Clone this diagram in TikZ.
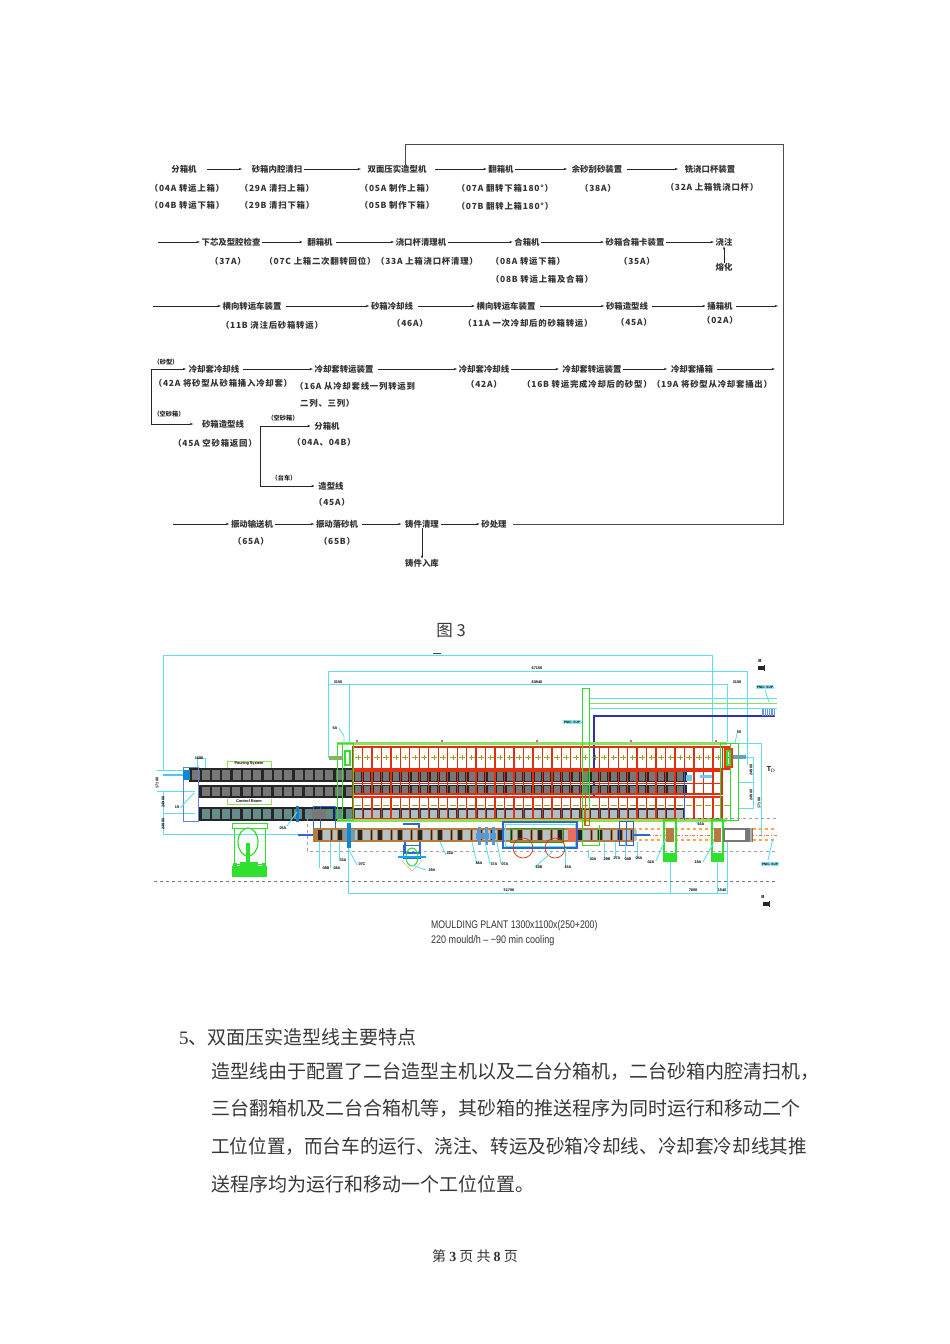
\documentclass[tikz,border=0pt]{standalone}
\usepackage{fontspec}
\usepackage{graphicx}
\usetikzlibrary{arrows.meta}
\setmainfont{Liberation Serif}
\newfontfamily\cjk{Noto Sans CJK SC}
\newfontfamily\cjkx[LetterSpace=9]{Noto Sans CJK SC}
\newfontfamily\plansans{Liberation Sans}
\definecolor{dimc}{HTML}{5FE0EE}
\definecolor{grn}{HTML}{2FE02F}
\definecolor{lgrn}{HTML}{8FE05A}
\definecolor{rd}{HTML}{E0300F}
\definecolor{blu}{HTML}{2F66D0}
\definecolor{dblu}{HTML}{3030B0}
\definecolor{brn}{HTML}{B47A40}
\definecolor{gry}{HTML}{777777}
\tikzset{
  fl/.style={font=\cjk\bfseries\fontsize{8.4}{10}\selectfont,inner xsep=1.5pt,inner ysep=0pt,text=black!80},
  flx/.style={font=\cjkx\bfseries\fontsize{8.4}{10}\selectfont,inner xsep=1.5pt,inner ysep=0pt,text=black!80},
  flsmall/.style={font=\cjk\bfseries\fontsize{6.2}{8}\selectfont,inner sep=0pt,text=black!85},
  arr/.style={draw=black!85,line width=0.65pt,-{Stealth[length=3.5pt,width=2.2pt]}},
  lin/.style={draw=black!85,line width=0.65pt},
  loopline/.style={draw=black!70,line width=0.8pt},
  body/.style={font=\cjk\fontsize{19}{22}\selectfont,anchor=west,inner sep=0pt,text=black!78},
  dim/.style={draw=dimc,line width=0.9pt},
  tiny/.style={font=\plansans\bfseries\fontsize{3.8}{4}\selectfont,inner sep=0pt,text=black},
  vtiny/.style={tiny,rotate=90},
  pnic/.style={font=\plansans\bfseries\fontsize{3.2}{4}\selectfont,inner sep=0.7pt,fill=dimc!70,text=black},
  plan/.style={font=\plansans\fontsize{11}{12}\selectfont,anchor=west,inner sep=0pt,text=black!80}
}
\begin{document}
\begin{tikzpicture}[x=1pt,y=-1pt]
\useasboundingbox (0,0) rectangle (950,1344);
\fill[white] (0,0) rectangle (950,1344);

% ---------- flow, row 1
\node[fl] (a1) at (184,169) {分箱机};
\node[fl] (a2) at (277,169) {砂箱内腔清扫};
\node[fl] (a3) at (397,169) {双面压实造型机};
\node[fl] (a4) at (501,169) {翻箱机};
\node[fl] (a5) at (597,169) {余砂刮砂装置};
\node[fl] (a6) at (710,169) {铣浇口杯装置};
\node[flx] (a1x) at (187,188) {（04A 转运上箱）};
\node[flx] (a1y) at (187,205) {（04B 转运下箱）};
\node[flx] (a2x) at (277,188) {（29A 清扫上箱）};
\node[flx] (a2y) at (277,205) {（29B 清扫下箱）};
\node[flx] (a3x) at (397,188) {（05A 制作上箱）};
\node[flx] (a3y) at (397,205) {（05B 制作下箱）};
\node[flx] (a4x) at (505,188) {（07A 翻转下箱180°）};
\node[flx] (a4y) at (505,206) {（07B 翻转上箱180°）};
\node[flx] (a5x) at (598,188) {（38A）};
\node[flx] (a6x) at (712,187) {（32A 上箱铣浇口杯）};
\draw[arr,shorten <=9pt,shorten >=8pt] (a1) -- (a2);
\draw[arr,shorten >=5pt] (a2) -- (a3);
\draw[arr,shorten <=7pt] (a3) -- (a4);
\draw[arr,shorten >=3pt] (a4) -- (a5);
\draw[arr,shorten <=3pt,shorten >=5pt] (a5) -- (a6);

% ---------- row 2
\coordinate (b0) at (158,242);
\node[fl] (b1) at (231,242) {下芯及型腔检查};
\node[fl] (b2) at (320,242) {翻箱机};
\node[fl] (b3) at (421,242) {浇口杯清理机};
\node[fl] (b4) at (527,242) {合箱机};
\node[fl] (b5) at (635,242) {砂箱合箱卡装置};
\node[fl] (b6) at (724,242) {浇注};
\node[fl] (b7) at (724,267) {熔化};
\node[flx] (b1x) at (228,261) {（37A）};
\node[flx] (b2x) at (320,261) {（07C 上箱二次翻转回位）};
\node[flx] (b3x) at (427,261) {（33A 上箱浇口杯清理）};
\node[flx] (b4x) at (528,261) {（08A 转运下箱）};
\node[flx] (b4y) at (542,279) {（08B 转运上箱及合箱）};
\node[flx] (b5x) at (637,261) {（35A）};
\draw[arr] (b0) -- (b1);
\draw[arr,shorten >=3pt] (b1) -- (b2);
\draw[arr,shorten <=2pt] (b2) -- (b3);
\draw[arr] (b3) -- (b4);
\draw[arr] (b4) -- (b5);
\draw[arr] (b5) -- (b6);
\draw[arr] (b7) -- (b6);

% ---------- row 3
\coordinate (c0) at (153,306);
\coordinate (c7) at (778,306);
\node[fl] (c1) at (252,306) {横向转运车装置};
\node[fl] (c2) at (392,306) {砂箱冷却线};
\node[fl] (c3) at (506,306) {横向转运车装置};
\node[fl] (c4) at (627,306) {砂箱造型线};
\node[fl] (c5) at (720,306) {捅箱机};
\node[flx] (c1x) at (272,325) {（11B 浇注后砂箱转运）};
\node[flx] (c2x) at (410,323) {（46A）};
\node[flx] (c3x) at (528,323) {（11A 一次冷却后的砂箱转运）};
\node[flx] (c4x) at (634,322) {（45A）};
\node[flx] (c5x) at (720,320) {（02A）};
\draw[arr] (c0) -- (c1);
\draw[arr,shorten <=3pt] (c1) -- (c2);
\draw[arr,shorten <=3pt] (c2) -- (c3);
\draw[arr,shorten <=3pt] (c3) -- (c4);
\draw[arr,shorten <=2pt] (c4) -- (c5);
\draw[arr,shorten <=2pt] (c5) -- (c7);

% ---------- row 4
\coordinate (d0) at (151,369);
\coordinate (d9) at (775,369);
\coordinate (e0) at (151,424);
\node[fl] (d1) at (214,369) {冷却套冷却线};
\node[fl] (d2) at (344,369) {冷却套转运装置};
\node[fl] (d3) at (484,369) {冷却套冷却线};
\node[fl] (d4) at (592,369) {冷却套转运装置};
\node[fl] (d5) at (692,369) {冷却套捅箱};
\node[flx] (d1x) at (223,383) {（42A 将砂型从砂箱捅入冷却套）};
\node[flx] (d2x) at (355,386) {（16A 从冷却套线一列转运到};
\node[flx,anchor=west,inner xsep=0pt] (d2y) at (300,403) {二列、三列）};
\node[flx] (d3x) at (484,384) {（42A）};
\node[flx] (d4x) at (587,384) {（16B 转运完成冷却后的砂型）};
\node[flx] (d5x) at (712,384) {（19A 将砂型从冷却套捅出）};
\node[flsmall] (ls1) at (166,362) {（砂型）};
\node[flsmall] (ls2) at (169,414) {（空砂箱）};
\node[fl] (e1) at (223,424) {砂箱造型线};
\node[flx] (e1x) at (215,443) {（45A 空砂箱返回）};
\draw[lin] (e0) -- (d0);
\draw[arr,shorten >=1pt] (d0) -- (d1);
\draw[arr,shorten >=7pt] (e0) -- (e1);
\draw[arr,shorten <=2pt] (d1) -- (d2);
\draw[arr,shorten <=3pt] (d2) -- (d3);
\draw[arr,shorten >=2pt] (d3) -- (d4);
\draw[arr,shorten >=2pt] (d4) -- (d5);
\draw[arr,shorten <=2pt] (d5) -- (d9);

% ---------- branch
\coordinate (f0) at (260,426);
\coordinate (f1) at (260,486);
\node[fl] (g1) at (327,426) {分箱机};
\node[flx] (g1x) at (324,442) {（04A、04B）};
\node[fl] (g2) at (331,486) {造型线};
\node[flx] (g2x) at (332,502) {（45A）};
\node[flsmall] (ls3) at (283,418) {（空砂箱）};
\node[flsmall] (ls4) at (284,478) {（台车）};
\draw[lin] (f0) -- (f1);
\draw[arr,shorten >=2pt] (f0) -- (g1);
\draw[arr,shorten >=2pt] (f1) -- (g2);

% ---------- row 5
\coordinate (h0) at (173,524);
\node[fl] (h1) at (252,524) {振动输送机};
\node[fl] (h2) at (337,524) {振动落砂机};
\node[fl] (h3) at (422,524) {铸件清理};
\node[fl] (h4) at (494,524) {砂处理};
\node[fl] (h5) at (422,563) {铸件入库};
\node[flx] (h1x) at (251,541) {（65A）};
\node[flx] (h2x) at (337,541) {（65B）};
\draw[arr] (h0) -- (h1);
\draw[arr] (h1) -- (h2);
\draw[arr,shorten <=2pt,shorten >=2pt] (h2) -- (h3);
\draw[arr] (h3) -- (h4);
\draw[arr] (h3) -- (h5);
% return loop
\coordinate (k1) at (783,524);
\coordinate (k2) at (783,144);
\coordinate (k3) at (405,144);
\draw[loopline,shorten <=5pt] (h4.east) -- (k1) -- (k2) -- (k3) -- (k3 |- a3.north);

% ---------- captions and text
\node[font=\cjk\fontsize{16.5}{18}\selectfont,text=black!78,inner sep=0pt] (fig) at (451,631) {图 3};
\draw[black!70,line width=0.6pt] (433,653) -- (441,653);

% ---------- plan: dimensions
\draw[dim] (163,770) -- (163,655) -- (712,655) -- (712,745);
\draw[dim] (328,758) -- (328,671) -- (747,671) -- (747,765);
\draw[dim] (328,684) -- (727,684) -- (727,742);
\draw[dim] (349,684) -- (349,745);
\draw[dim] (157,770) -- (186,770);
\draw[dim] (157,791) -- (195,791);
\draw[dim] (163,791) -- (163,834) -- (307,834);
\draw[dim] (163,813) -- (195,813);
\draw[dim] (348,830) -- (348,893) -- (727,893) -- (727,840);
\draw[dim] (670,855) -- (670,893);
\draw[dim] (717,855) -- (717,893);
\draw[dim] (738,743) -- (761,743) -- (761,835);
\draw[dim] (738,757) -- (753,757) -- (753,808) -- (738,808);
\draw[dim] (738,782) -- (753,782);
\draw[dim] (197,758) rectangle (205,768);
\draw[lgrn,line width=0.5pt] (227,769) -- (227,761) -- (271,761) -- (271,768);
\draw[lgrn,line width=0.5pt] (227,799) -- (227,804) -- (271,804) -- (271,799);

% pipes
\draw[dim] (589,698) -- (777,698);
\draw[dim] (589,708) -- (777,708);
\draw[lgrn,line width=0.9pt] (589,703) -- (777,703);
\draw[dblu,line width=1.2pt] (594,820) -- (594,716) -- (775,716);
\foreach \i in {0,...,7} \draw[blu!70,line width=0.8pt] (762+\i*1.8,709) -- (762+\i*1.8,716);

% left pallet rows
\fill[black!85] (189,768) rectangle (353,782);
\fill[black!85] (199,785) rectangle (353,798);
\fill[black!85] (199,807) rectangle (353,821);
\foreach \i in {0,...,15} {
  \fill[gry] (191.5+\i*10.3,770) rectangle (199.5+\i*10.3,780);
  \ifnum\i<15 \fill[gry] (201.5+\i*10.3,787) rectangle (209.5+\i*10.3,796);
  \fill[gry!85!cyan] (201.5+\i*10.3,809) rectangle (209.5+\i*10.3,819);\fi
}

% red frames
\draw[rd,line width=1.3pt] (353,747) rectangle (730,769);
\fill[black!85] (353,771) rectangle (687,782);
\fill[black!85] (353,785) rectangle (687,794);
\fill[white] (353,797) rectangle (722,818);
\fill[black!80] (353,808) rectangle (685,819);
\foreach \i in {0,...,34} {
  \fill[gry] (355+\i*9.47,772) rectangle (361+\i*9.47,781);
  \fill[gry] (355+\i*9.47,786) rectangle (361+\i*9.47,793);
  \fill[cyan!22!gry!60] (354.5+\i*9.47,809.5) rectangle (361.5+\i*9.47,817.5);
}
\foreach \i in {0,...,39} {
  \draw[rd,line width=1.3pt] (353+\i*9.47,747) -- (353+\i*9.47,769);
  \draw[rd,line width=1.3pt] (353+\i*9.47,771) -- (353+\i*9.47,794);
  \draw[rd,line width=1.3pt] (353+\i*9.47,797) -- (353+\i*9.47,818);
  \draw[olive!80,line width=0.4pt] (355+\i*9.47,757.5) -- (361+\i*9.47,757.5) (358+\i*9.47,755) -- (358+\i*9.47,760);
  \draw[olive!80,line width=0.4pt] (355+\i*9.47,805) -- (361+\i*9.47,805);
}
\draw[rd,line width=1.3pt] (353,771) rectangle (722,794);
\draw[rd,line width=1.3pt] (353,797) rectangle (722,819);
\draw[rd,line width=1pt] (353,783.5) -- (722,783.5);

% green bands and frames
\draw[lgrn,line width=2.6pt] (337,743.5) -- (727,743.5);
\draw[lgrn,line width=2.6pt] (337,820.5) -- (727,820.5);
\draw[grn,line width=1pt] (337,743) rectangle (353,820);
\draw[grn,line width=1pt] (342,743) -- (342,820);
\draw[grn,line width=1pt] (720,743) rectangle (738,820);
\draw[grn,line width=1pt] (730,743) -- (730,820);
\draw[grn,line width=0.9pt] (582,688) rectangle (589,820);
\fill[grn!40!gray,opacity=.55] (582,771) rectangle (589,795);
\draw[orange!80!black,line width=0.9pt] (585.5,795) -- (585.5,825);
\draw[rd!80!orange,line width=1.2pt] (725,749) rectangle (732,767);
\draw[grn,line width=1.2pt] (727,751) rectangle (730,765);
\fill[lgrn!60!gry] (329,756) rectangle (343,760);
\draw[grn,line width=1.2pt] (345,751) rectangle (350,765);
\fill[cyan!45!gry] (733,755) rectangle (746,759);
\fill[cyan!60] (686,775) rectangle (692,781);
\fill[cyan!60] (700,775) rectangle (712,778);

% magenta marks
\foreach \x in {357,442,537,631,716} \fill[magenta!70] (\x-1,740) rectangle (\x+1,742);

% left pusher and blue frame
\draw[blu!80,line width=0.8pt] (183,767) rectangle (198,821);
\draw[cyan!70,line width=2pt] (163,775) -- (184,775);
\fill[cyan!70!blue] (183,770) rectangle (190,780);
\fill[cyan!60!blue] (296,806) rectangle (299,822);
\draw[blu,line width=0.8pt] (313,806) rectangle (335,828);
\draw[blu,line width=0.8pt] (320,806) -- (320,828);
\fill[gry] (312,809) rectangle (326,819);

% bottom transfer line
\draw[gry!70,dashed,line width=0.5pt] (307,818) -- (307,851) -- (777,851);
\draw[gry!70,dashed,line width=0.5pt] (677,818) -- (777,818);
\draw[gry,dashed,line width=0.8pt] (154,881) -- (777,881);
\draw[orange!70,dashed,line width=1.4pt] (633,829) -- (777,829);
\draw[orange!70,dashed,line width=1.4pt] (633,840) -- (777,840);
\draw[rd!70,dash dot,line width=0.6pt] (633,835) -- (777,835);
\fill[brn] (313,828) rectangle (633,842);
\foreach \i in {0,...,15} {
  \fill[black!85] (318+\i*20,830) rectangle (322+\i*20,840);
  \fill[cyan!20!gry!55] (323+\i*20,830) rectangle (330+\i*20,840);
  \fill[black!85] (331+\i*20,830) rectangle (332+\i*20,840);
  \fill[cyan!20!gry!55] (333+\i*20,830) rectangle (337+\i*20,840);
}
\draw[blu,line width=2pt] (298,835) -- (313,835);
\fill[cyan!30!gry] (343,829) rectangle (355,841);
\fill[cyan!70!blue] (347,823) rectangle (351,848);
\draw[blu,line width=1.2pt] (403,824) -- (419,824) -- (419,828);
\draw[blu,line width=1.2pt] (405,842) -- (405,853) -- (420,853) -- (420,842);

% mid machine group
\draw[dimc,line width=0.8pt] (505,824) rectangle (575,846);
\draw[blu,line width=1.1pt] (503,822) rectangle (577,848);
\draw[grn!70!black,line width=1pt] (510,828) rectangle (563,842);
\draw[rd,line width=0.7pt] (523,848) circle (10);
\draw[rd,line width=0.7pt] (555,848) circle (10);
\fill[rd!70] (568,828) rectangle (576,842);
\foreach \x in {479,486,493} \fill[cyan!60!blue!70] (\x-3,833) rectangle (\x+3,839);
\foreach \x in {479,486,493} \fill[cyan!60!blue!70] (\x-1.5,827) rectangle (\x+1.5,845);
\draw[grn,line width=1pt] (582,820) -- (582,845) -- (599,845) -- (599,825);
\draw[orange!80!black,line width=1pt] (584,808) rectangle (589,825);
\draw[blu,line width=0.8pt] (619,821) rectangle (633,845);
\draw[blu,line width=0.8pt] (626,821) -- (626,845);
\draw[blu,line width=2pt] (633,835) -- (650,835);
\draw[blu,line width=0.8pt] (684,770) -- (684,820);

% green press left
\draw[grn,line width=0.8pt] (232,823) rectangle (267,828);
\draw[grn,line width=0.8pt] (234,828) rectangle (265,864);
\draw[grn,line width=1.2pt] (248,842) ellipse (10 and 14);
\fill[grn] (246,843) rectangle (250,863);
\fill[grn] (232,866) rectangle (267,877);
\fill[grn] (240,862) rectangle (258,866);
\fill[grn] (233,863) rectangle (237,866);
\fill[grn] (262,863) rectangle (266,866);

% bottom rotary small unit
\draw[blu,line width=0.8pt] (403,845) rectangle (420,858);
\draw[grn,line width=1pt] (412,857) ellipse (6 and 9);
\draw[cyan,line width=1.2pt] (398,857) -- (426,857);
\draw[rd!40,line width=0.5pt] (401,860) -- (412,871) -- (423,860);

% right machines
\draw[grn,line width=1.2pt] (664,820) rectangle (676,861);
\fill[grn] (664,853) rectangle (676,861);
\fill[brn] (666,828) rectangle (674,842);
\draw[grn,line width=1.2pt] (712,820) rectangle (723,861);
\fill[grn] (712,853) rectangle (723,861);
\fill[gry] (723,828) rectangle (753,842);
\fill[white] (725,830) rectangle (745,840);
\draw[gry!60,line width=1.4pt] (751,828) -- (751,842);
\fill[brn] (714,828) rectangle (721,842);

% leader lines
\draw[dim] (287,826) -- (297,812);
\draw[dim] (339,728) -- (344,736) -- (344,745);
\draw[dim] (319,842) -- (319,868);
\draw[dim] (330,842) -- (330,868);
\draw[dim] (339,842) -- (339,860);
\draw[dim] (348,848) -- (357,865);
\draw[dim] (440,842) -- (446,855);
\draw[dim] (412,865) -- (426,870);
\draw[dim] (472,842) -- (477,864);
\draw[dim] (485,842) -- (490,864);
\draw[dim] (497,842) -- (501,864);
\draw[dim] (552,852) -- (535,867);
\draw[dim] (565,848) -- (565,867);
\draw[dim] (588,850) -- (588,858);
\draw[dim] (604,842) -- (604,858);
\draw[dim] (615,842) -- (615,858);
\draw[dim] (625,842) -- (625,858);
\draw[dim] (637,842) -- (637,858);
\draw[dim] (656,861) -- (665,840);
\draw[dim] (703,862) -- (714,842);
\draw[dim] (695,820) -- (698,824);
\draw[dim] (735,743) -- (737,733);
\draw[dim] (768,860) -- (773,838);
\draw[dim] (765,690) -- (769,702);
\draw[dim] (180,808) -- (194,793);
\draw[dim] (578,722) -- (582,722);

% plan labels
\node[tiny] (t1) at (537,668) {67150};
\node[tiny] (t2) at (537,682) {60940};
\node[tiny] (t3) at (338,682) {3150};
\node[tiny] (t4) at (737,682) {3150};
\node[tiny] (t5) at (199,758) {1680};
\node[tiny] (t6) at (249,764) {Pouring System};
\node[tiny] (t7) at (249,801) {Control Room};
\node[tiny] (t8) at (177,807) {19};
\node[tiny] (t9) at (335,728) {5A};
\node[tiny] (t10) at (739,732) {50};
\node[tiny] (t11) at (701,824) {16A};
\node[tiny] (t12) at (283,828) {05A};
\node[tiny] (t13) at (326,868) {08B};
\node[tiny] (t14) at (337,868) {08A};
\node[tiny] (t15) at (343,860) {33A};
\node[tiny] (t16) at (362,864) {07C};
\node[tiny] (t17) at (450,853) {32A};
\node[tiny] (t18) at (432,870) {29A};
\node[tiny] (t19) at (479,863) {38A};
\node[tiny] (t20) at (494,864) {37A};
\node[tiny] (t21) at (505,864) {07A};
\node[tiny] (t22) at (539,867) {15B};
\node[tiny] (t23) at (568,867) {16A};
\node[tiny] (t24) at (593,859) {30A};
\node[tiny] (t25) at (607,859) {29B};
\node[tiny] (t26) at (617,858) {27A};
\node[tiny] (t27) at (628,859) {04B};
\node[tiny] (t28) at (639,858) {04A};
\node[tiny] (t29) at (651,862) {02A};
\node[tiny] (t30) at (698,862) {19A};
\node[tiny] (t31) at (509,890) {51700};
\node[tiny] (t32) at (693,890) {7800};
\node[tiny] (t33) at (722,890) {1540};
\node[vtiny] (t34) at (157,783) {17100};
\node[vtiny] (t35) at (163,802) {24900};
\node[vtiny] (t36) at (163,824) {24900};
\node[vtiny] (t37) at (751,770) {24900};
\node[vtiny] (t38) at (751,795) {24900};
\node[vtiny] (t39) at (759,803) {17100};
\node[pnic] (p1) at (572,722) {PNIC. SUP};
\node[pnic] (p2) at (765,687) {PNIC. SUP};
\node[pnic] (p3) at (770,864) {PNIC. SUP};
\node[tiny,font=\plansans\bfseries\fontsize{4.5}{5}\selectfont] (b1m) at (760,661) {B};
\fill[black!85] (757.5,666) rectangle (763.5,670);
\draw[black!85,line width=0.5pt] (764.5,664.5) -- (764.5,671);
\node[tiny,font=\plansans\bfseries\fontsize{4.5}{5}\selectfont] (b2m) at (763,897) {B};
\fill[black!85] (762.5,902) rectangle (768.5,906);
\draw[black!85,line width=0.5pt] (769.5,900.5) -- (769.5,907);
\node[tiny,font=\plansans\bfseries\fontsize{7}{7}\selectfont] (tm) at (771,770) {T$_\mathrm{D}$};

\node[plan] (m1) at (431,926) {\scalebox{0.79}[1]{MOULDING PLANT 1300x1100x(250+200)}};
\node[plan] (m2) at (431,941) {\scalebox{0.82}[1]{220 mould/h – \textasciitilde 90 min cooling}};

\node[body] (s0) at (179,1037) {\fontspec{Liberation Serif}5\cjk、双面压实造型线主要特点};
\node[body] (s1) at (211,1071) {造型线由于配置了二台造型主机以及二台分箱机，二台砂箱内腔清扫机，};
\node[body] (s2) at (211,1108) {三台翻箱机及二台合箱机等，其砂箱的推送程序为同时运行和移动二个};
\node[body] (s3) at (211,1146) {\scalebox{0.98}[1]{工位位置，而台车的运行、浇注、转运及砂箱冷却线、冷却套冷却线其推}};
\node[body] (s4) at (211,1184) {送程序均为运行和移动一个工位位置。};
\node[font=\cjk\fontsize{14}{15}\selectfont,text=black!80,inner sep=0pt] (pg) at (475,1256) {第 {\fontspec{Liberation Serif}\bfseries 3} 页 共 {\fontspec{Liberation Serif}\bfseries 8} 页};
\end{tikzpicture}
\end{document}
